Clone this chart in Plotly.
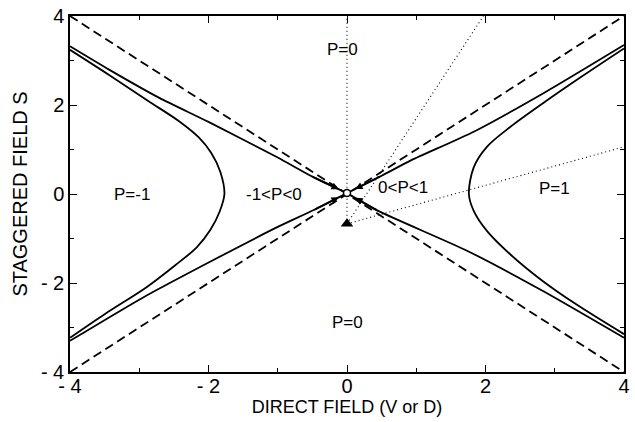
import numpy as np
import plotly.graph_objects as go

# Separatrices (flow lines into the fixed point at the origin)
sep_ul_v = [-4.0, -3.43, -2.71, -2.0, -1.0, -0.5, 0.0]
sep_ul_s = [3.32, 2.79, 2.16, 1.62, 0.82, 0.39, 0.02]
sep_ll_v = [-4.0, -2.95, -1.95, -1.0, -0.48, 0.0]
sep_ll_s = [-3.30, -2.33, -1.50, -0.74, -0.36, 0.02]
sep_ur_v = [0.0, 0.5, 0.93, 1.83, 2.83, 4.0]
sep_ur_s = [0.02, 0.41, 0.76, 1.40, 2.26, 3.35]
sep_lr_v = [0.0, 0.45, 1.74, 2.83, 4.0]
sep_lr_s = [0.02, -0.38, -1.28, -2.18, -3.23]

# Phase boundaries (hyperbola-like branches)
hyp_l_v = [-4.0, -3.43, -2.86, -2.43, -2.14, -1.96, -1.83, -1.77,
           -1.84, -1.97, -2.17, -2.48, -2.9, -3.5, -4.0]
hyp_l_s = [3.24, 2.67, 2.08, 1.64, 1.27, 0.92, 0.50, 0.0,
           -0.40, -0.80, -1.20, -1.60, -2.10, -2.70, -3.23]
hyp_r_v = [4.0, 3.4, 2.83, 2.36, 2.02, 1.83, 1.76,
           1.83, 2.02, 2.36, 2.83, 3.31, 4.0]
hyp_r_s = [3.27, 2.65, 2.04, 1.51, 1.06, 0.60, 0.0,
           -0.38, -0.83, -1.36, -1.96, -2.48, -3.15]

# Diagonals S = +/- V
diag_v = [-4.0, 4.0]

# Fixed points
fp_open = (0.0, 0.02)
fp_tri = (0.0, -0.67)

# Dotted rays from the triangular fixed point
ray_ends_v = [0.0, 1.97, 4.0]
ray_ends_s = [4.0, 4.0, 1.06]

# Region labels
region_text = ["P=0", "P=-1", "-1<P<0", "0<P<1", "P=1", "P=0"]
region_v = [-0.06, -3.11, -1.05, 0.81, 2.99, 0.01]
region_s = [3.24, -0.02, -0.02, 0.15, 0.12, -2.89]

tick_vals = [-4, -2, 0, 2, 4]
tick_text = ["- 4", "- 2", "0", "2", "4"]
minor_vals = [-3, -1, 1, 3]

FONT = "Liberation Sans, Arial, Helvetica, sans-serif"
BLACK = "black"

fig = go.Figure()

solid = dict(color=BLACK, width=1.8)
for v, s in [(sep_ul_v, sep_ul_s), (sep_ll_v, sep_ll_s),
             (sep_ur_v, sep_ur_s), (sep_lr_v, sep_lr_s)]:
    fig.add_trace(go.Scatter(x=v, y=s, mode="lines",
                             line=dict(shape="spline", smoothing=0.6, **solid),
                             hoverinfo="skip"))
for v, s in [(hyp_l_v, hyp_l_s), (hyp_r_v, hyp_r_s)]:
    fig.add_trace(go.Scatter(x=v, y=s, mode="lines",
                             line=dict(shape="spline", smoothing=0.9, **solid),
                             hoverinfo="skip"))

# dashed diagonals
dashed = dict(color=BLACK, width=1.8, dash="9px,5px")
fig.add_trace(go.Scatter(x=diag_v, y=[-v for v in diag_v], mode="lines",
                         line=dashed, hoverinfo="skip"))
fig.add_trace(go.Scatter(x=diag_v, y=list(diag_v), mode="lines",
                         line=dashed, hoverinfo="skip"))

# dotted rays
dotted = dict(color=BLACK, width=1.1, dash="1px,3px")
for ve, se in zip(ray_ends_v, ray_ends_s):
    fig.add_trace(go.Scatter(x=[fp_tri[0], ve], y=[fp_tri[1], se], mode="lines",
                             line=dotted, hoverinfo="skip"))

# fixed points
fig.add_trace(go.Scatter(x=[fp_open[0]], y=[fp_open[1]], mode="markers",
                         marker=dict(symbol="circle", size=7, color="white",
                                     line=dict(color=BLACK, width=1.5)),
                         hoverinfo="skip"))
fig.add_trace(go.Scatter(x=[fp_tri[0]], y=[fp_tri[1]], mode="markers",
                         marker=dict(symbol="triangle-up", size=11, color=BLACK),
                         hoverinfo="skip"))

annotations = []
# flow arrows on the separatrices, pointing into the origin
for v, s, tail_v, head_v in [(sep_ul_v, sep_ul_s, -0.5, -0.12),
                             (sep_ll_v, sep_ll_s, -0.48, -0.12),
                             (sep_ur_v, sep_ur_s, 0.5, 0.12),
                             (sep_lr_v, sep_lr_s, 0.45, 0.12)]:
    annotations.append(dict(
        x=head_v, y=float(np.interp(head_v, v, s)),
        ax=tail_v, ay=float(np.interp(tail_v, v, s)),
        xref="x", yref="y", axref="x", ayref="y",
        showarrow=True, arrowhead=2, arrowsize=0.8, arrowwidth=1.8,
        arrowcolor=BLACK, text=""))

for t, v, s in zip(region_text, region_v, region_s):
    annotations.append(dict(x=v, y=s, xref="x", yref="y", text=t,
                            showarrow=False,
                            font=dict(family=FONT, size=17, color=BLACK)))

axis_common = dict(
    range=[-4, 4], tickmode="array", tickvals=tick_vals, ticktext=tick_text,
    ticks="inside", ticklen=7, tickwidth=1.3, tickcolor=BLACK,
    showline=True, linewidth=1.5, linecolor=BLACK, mirror="ticks",
    showgrid=False, zeroline=False,
    tickfont=dict(family=FONT, size=20, color=BLACK),
    minor=dict(tickmode="array", tickvals=minor_vals, ticks="inside",
               ticklen=4, tickwidth=1.2, tickcolor=BLACK, showgrid=False),
)

fig.update_layout(
    width=635, height=422,
    margin=dict(l=70, r=5, t=16, b=50),
    paper_bgcolor="white", plot_bgcolor="white",
    showlegend=False,
    xaxis=dict(axis_common, ticklabelstandoff=-5,
               title=dict(text="DIRECT FIELD (V or D)", standoff=2,
                          font=dict(family=FONT, size=18, color=BLACK))),
    yaxis=dict(axis_common,
               title=dict(text="STAGGERED FIELD S", standoff=8,
                          font=dict(family=FONT, size=20, color=BLACK))),
    annotations=annotations,
)

fig.write_html("out.html", config={"displayModeBar": False})
